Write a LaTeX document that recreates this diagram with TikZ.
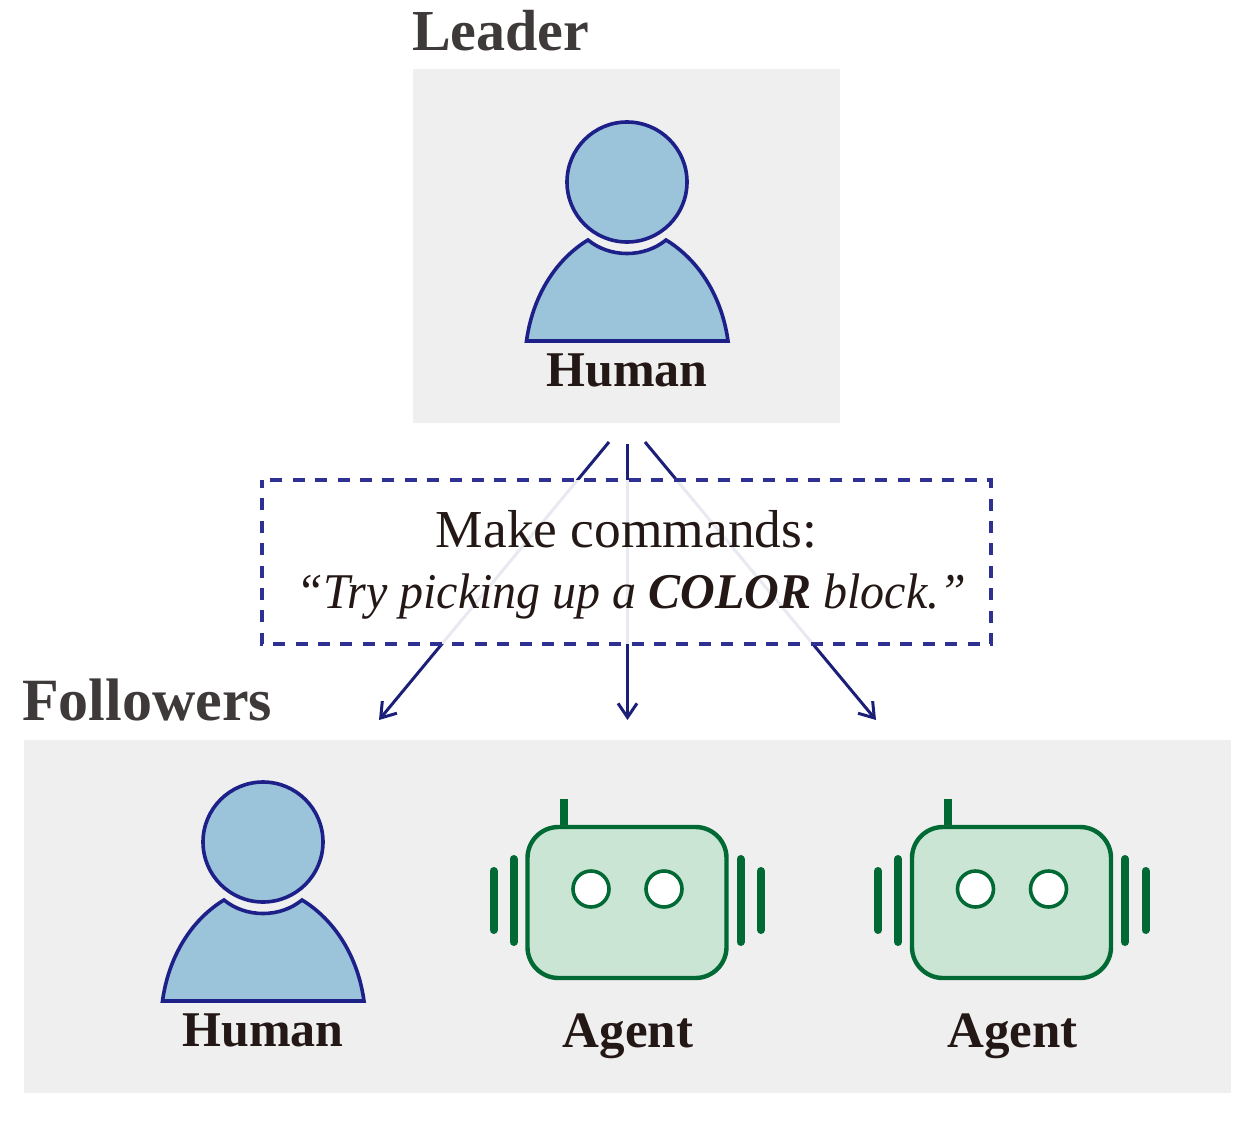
\documentclass[tikz,border=0pt]{standalone}
\usepackage{fontspec}
\setmainfont{Liberation Serif}
\usetikzlibrary{arrows.meta}
\definecolor{panelgray}{HTML}{EFEFEF}
\definecolor{headtext}{HTML}{3E3A39}
\definecolor{bodytext}{HTML}{231815}
\definecolor{personfill}{HTML}{9BC3DA}
\definecolor{personline}{HTML}{1D2088}
\definecolor{robotfill}{HTML}{CBE5D5}
\definecolor{robotline}{HTML}{006934}
\definecolor{arrowline}{HTML}{1B1F78}
\definecolor{dashline}{HTML}{2E3192}
\tikzset{
  panel/.style={fill=panelgray,draw=none,inner sep=0pt,anchor=north west},
  headlabel/.style={anchor=base west,inner sep=0pt,text=headtext,font=\fontsize{58}{60}\selectfont\bfseries},
  headlabelwide/.style={headlabel,font=\fontsize{60}{62}\selectfont\bfseries},
  whoname/.style={anchor=base,inner sep=0pt,text=bodytext,font=\fontsize{50}{54}\selectfont\bfseries},
  agentname/.style={whoname,font=\fontsize{51}{54}\selectfont\bfseries},
  cmdtext/.style={anchor=base,inner sep=0pt,text=bodytext,font=\fontsize{53.4}{60}\selectfont},
  cmdital/.style={anchor=base,inner sep=0pt,text=bodytext,xscale=0.96,font=\fontsize{50}{60}\selectfont\itshape},
  flow/.style={draw=arrowline,line width=3pt,-{Straight Barb[length=14pt,width=19pt,line width=3pt]}},
  personpart/.style={fill=personfill,draw=personline,line width=3.6pt,line join=miter},
  robotpart/.style={fill=robotfill,draw=robotline,line width=4.4pt},
  robotbar/.style={draw=robotline,line width=8pt,line cap=round},
  robotmast/.style={draw=robotline,line width=8pt},
  roboteye/.style={fill=white,draw=robotline,line width=3.6pt},
  pics/person/.style={code={
    \path[personpart] (0,-60) circle [radius=60pt];
    \path[personpart] (-100.5,99) .. controls (-94.5,55) and (-72,18) .. (-39,-2)
      .. controls (-17,16) and (17,16) .. (39,-2)
      .. controls (72,18) and (95,55) .. (101,99) -- cycle;
  }},
  pics/robot/.style={code={
    \path[robotmast] (-64,-28) -- (-64,0);
    \path[robotpart,rounded corners=31pt] (-100,0) rectangle (99,151);
    \path[roboteye] (-36.5,62) circle [radius=18pt];
    \path[roboteye] (36.5,62) circle [radius=18pt];
    \path[robotbar] (-134,44) -- (-134,103);
    \path[robotbar] (-114,32) -- (-114,115);
    \path[robotbar] (113,32) -- (113,115);
    \path[robotbar] (133.5,44) -- (133.5,103);
  }},
}
\begin{document}
\begin{tikzpicture}[x=1pt,y=-1pt]
\useasboundingbox (0,0) rectangle (1259,1125);
\node[panel,minimum width=427pt,minimum height=354pt] (leaderbox) at (413,69) {};
\node[panel,minimum width=1207pt,minimum height=353pt] (followerbox) at (24,740) {};
\node[headlabel] (leadertitle) at (412,50) {Leader};
\node[headlabelwide] (followertitle) at (22,720) {Followers};

\coordinate (s1) at (609,442);
\coordinate (s2) at (627.5,444);
\coordinate (s3) at (645,442);
\coordinate (e1) at (379,720);
\coordinate (e2) at (627.5,720);
\coordinate (e3) at (876,720);
\draw[flow] (s1) -- (e1);
\draw[flow] (s2) -- (e2);
\draw[flow] (s3) -- (e3);

\node[draw=none,fill=white,fill opacity=0.9,inner sep=0pt,anchor=north west,minimum width=729pt,minimum height=164pt] (cmdbox) at (262,480) {};
\draw[draw=dashline,line width=3.6pt,dash pattern=on 12pt off 10.4pt,dash phase=4pt] (262,480) rectangle (991,644);
\node[cmdtext] (cmdline) at (626.5,547.5) {Make commands:};
\node[cmdital] (cmdquote) at (631.5,608) {“Try picking up a \textbf{COLOR} block.”};

\pic (leaderp) at (627,242) {person};
\node[whoname] (leadername) at (627,386.5) {Human};
\pic (followerp) at (263,902) {person};
\node[whoname] (followername) at (263,1046.5) {Human};
\pic (agentone) at (627.5,827) {robot};
\node[agentname] (agentonename) at (628,1047) {Agent};
\pic (agenttwo) at (1012,827) {robot};
\node[agentname] (agenttwoname) at (1012.5,1047) {Agent};
\end{tikzpicture}
\end{document}
